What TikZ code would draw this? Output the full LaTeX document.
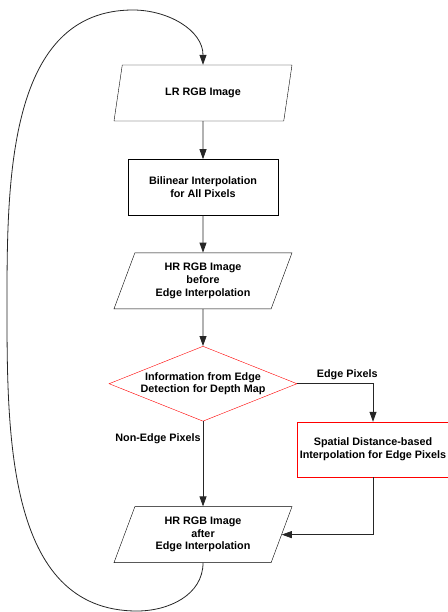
\documentclass[tikz,border=0pt]{standalone}
\usepackage{fontspec}
\setmainfont{Liberation Sans}
\usetikzlibrary{positioning,arrows.meta,shapes.geometric}

\begin{document}
\begin{tikzpicture}[x=1pt,y=1pt,
node distance=37pt,
every node/.style={font=\bfseries\fontsize{10.8}{12.6}\selectfont,align=center},
io/.style={draw,trapezium,trapezium left angle=63.4,trapezium right angle=116.6,trapezium stretches body,minimum width=178pt,minimum height=56pt,inner xsep=1pt},
proc/.style={draw,rectangle,minimum width=150pt,minimum height=56pt},
decide/.style={draw=red,diamond,aspect=2.5,minimum width=188pt,minimum height=75pt,inner sep=0pt},
redproc/.style={draw=red,rectangle,minimum width=152pt,minimum height=55pt,inner xsep=1pt},
lbl/.style={inner sep=2pt},
arr/.style={draw=black!85,line width=0.8pt,-{Triangle[length=10pt,width=7pt]}},
>=Stealth]
\useasboundingbox (0,0) rectangle (447,-612);
\node[io] (lr) at (203,-93) {LR RGB Image};
\node[proc] (bil) [below=38pt of lr] {Bilinear Interpolation\\for All Pixels};
\node[io] (hrb) [below=of bil] {HR RGB Image\\before\\Edge Interpolation};
\node[decide] (dec) [below=of hrb] {Information from Edge\\Detection for Depth Map};
\node[io] (hra) [below=85pt of dec] {HR RGB Image\\after\\Edge Interpolation};
\node[redproc] (spat) at (373,-449.5) {Spatial Distance-based\\Interpolation for Edge Pixels};
\draw[arr] (lr)--(bil);
\draw[arr] (bil)--(hrb);
\draw[arr] (hrb)--(dec);
\draw[arr] (dec.east) -| node[lbl,pos=0.33,above,yshift=2pt] {Edge Pixels} (spat.north);
\draw[arr] (dec.south) -- node[lbl,pos=0.2,left] {Non-Edge Pixels} (hra.north);
\draw[arr] (spat.south) |- (hra.east);
\draw[arr] (hra.south) to[out=-90,in=0] (137,-611) to[out=180,in=-90] (7,-300)
  to[out=90,in=180] (133,-10) to[out=0,in=90] (lr.north);
\end{tikzpicture}
\end{document}
